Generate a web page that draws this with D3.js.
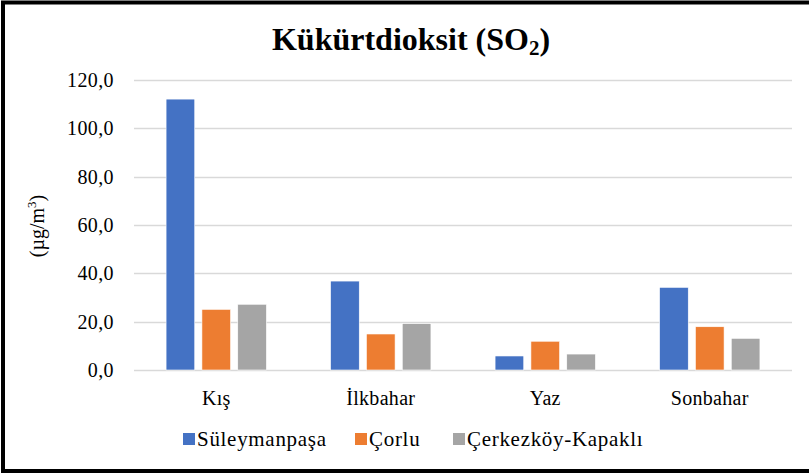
<!DOCTYPE html>
<html><head><meta charset="utf-8">
<script src="https://cdn.jsdelivr.net/npm/d3@7"></script>
<style>
html,body{margin:0;padding:0;background:#fff;}
svg{display:block;}
</style></head>
<body>
<svg id="chart" width="809" height="473"></svg>
<script>
const categories = ["Kış", "İlkbahar", "Yaz", "Sonbahar"];
const seriesNames = ["Süleymanpaşa", "Çorlu", "Çerkezköy-Kapaklı"];
const suleymanpasa = [112.1, 36.8, 5.8, 34.2];
const corlu = [25.1, 14.9, 11.9, 17.9];
const cerkezkoy = [27.2, 19.2, 6.6, 13.1];
const yTicks = [0, 20, 40, 60, 80, 100, 120];
const colors = ["#4472C4", "#ED7D31", "#A5A5A5"];

(function () {
const FONT = "Liberation Serif";
const seriesValues = [suleymanpasa, corlu, cerkezkoy];
const svg = d3.select("#chart");

// border
svg.append("rect").attr("x", 3).attr("y", 2.5).attr("width", 812).attr("height", 468.5)
  .attr("fill", "#fff").attr("stroke", "#000").attr("stroke-width", 4);

const pl = 134, pr = 792, pt = 80, pb = 370;

const y = d3.scaleLinear().domain([0, 120]).range([pb, pt]);
const x0 = d3.scaleBand().domain(categories).range([pl, pr]).paddingInner(0.39).paddingOuter(0.195);
const x1 = d3.scaleBand().domain(seriesNames).range([0, x0.bandwidth()]).paddingInner(0.2);

// gridlines
svg.append("g").selectAll("line").data(yTicks).join("line")
  .attr("x1", pl).attr("x2", pr)
  .attr("y1", d => Math.round(y(d)) + 0.5).attr("y2", d => Math.round(y(d)) + 0.5)
  .attr("stroke", "#D9D9D9").attr("stroke-width", 1.5);

// y tick labels
const fmt = d => d3.format(".1f")(d).replace(".", ",");
svg.append("g").selectAll("text").data(yTicks).join("text")
  .style("font-family", FONT).style("letter-spacing", "0.4px")
  .attr("x", 114).attr("y", d => y(d) + 7)
  .attr("text-anchor", "end").attr("font-size", 20).text(fmt);

// bars
const groups = svg.append("g").selectAll("g").data(categories).join("g")
  .attr("transform", c => `translate(${x0(c)},0)`);
groups.selectAll("rect").data((c, i) => seriesNames.map((s, j) => ({s, j, v: seriesValues[j][i]})))
  .join("rect")
  .attr("x", d => x1(d.s)).attr("width", x1.bandwidth())
  .attr("y", d => y(d.v)).attr("height", d => y(0) - y(d.v))
  .attr("fill", d => colors[d.j]).attr("stroke", "#fff").attr("stroke-width", 0.6);

// category labels
svg.append("g").selectAll("text").data(categories).join("text")
  .style("font-family", FONT).style("letter-spacing", "0.3px")
  .attr("x", c => x0(c) + x0.bandwidth() / 2).attr("y", 405)
  .attr("text-anchor", "middle").attr("font-size", 20).text(d => d);

// title
const title = svg.append("text").attr("x", 411).attr("y", 50).attr("text-anchor", "middle")
  .style("font-family", FONT)
  .attr("font-size", 32).attr("font-weight", "bold");
title.append("tspan").text("Kükürtdioksit  (SO");
title.append("tspan").attr("font-size", 21).attr("dy", 5).text("2");
title.append("tspan").attr("dy", -5).text(")");

// y axis title
const yt = svg.append("text").attr("transform", "translate(44,226) rotate(-90)")
  .style("font-family", FONT)
  .attr("text-anchor", "middle").attr("font-size", 20);
yt.append("tspan").text("(µg/m");
yt.append("tspan").attr("font-size", 13).attr("dy", -8).text("3");
yt.append("tspan").attr("dy", 8).text(")");

// legend
const legendX = [183, 355, 453];
const lg = svg.append("g").selectAll("g").data(seriesNames).join("g")
  .attr("transform", (d, i) => `translate(${legendX[i]},439)`);
lg.append("rect").attr("x", 0).attr("y", -6).attr("width", 12).attr("height", 12)
  .attr("fill", (d, i) => colors[i]);
lg.append("text").style("font-family", FONT).style("letter-spacing", "0.7px")
  .attr("x", 14).attr("y", 7).attr("font-size", 21).text(d => d);
})();
</script>
</body></html>
